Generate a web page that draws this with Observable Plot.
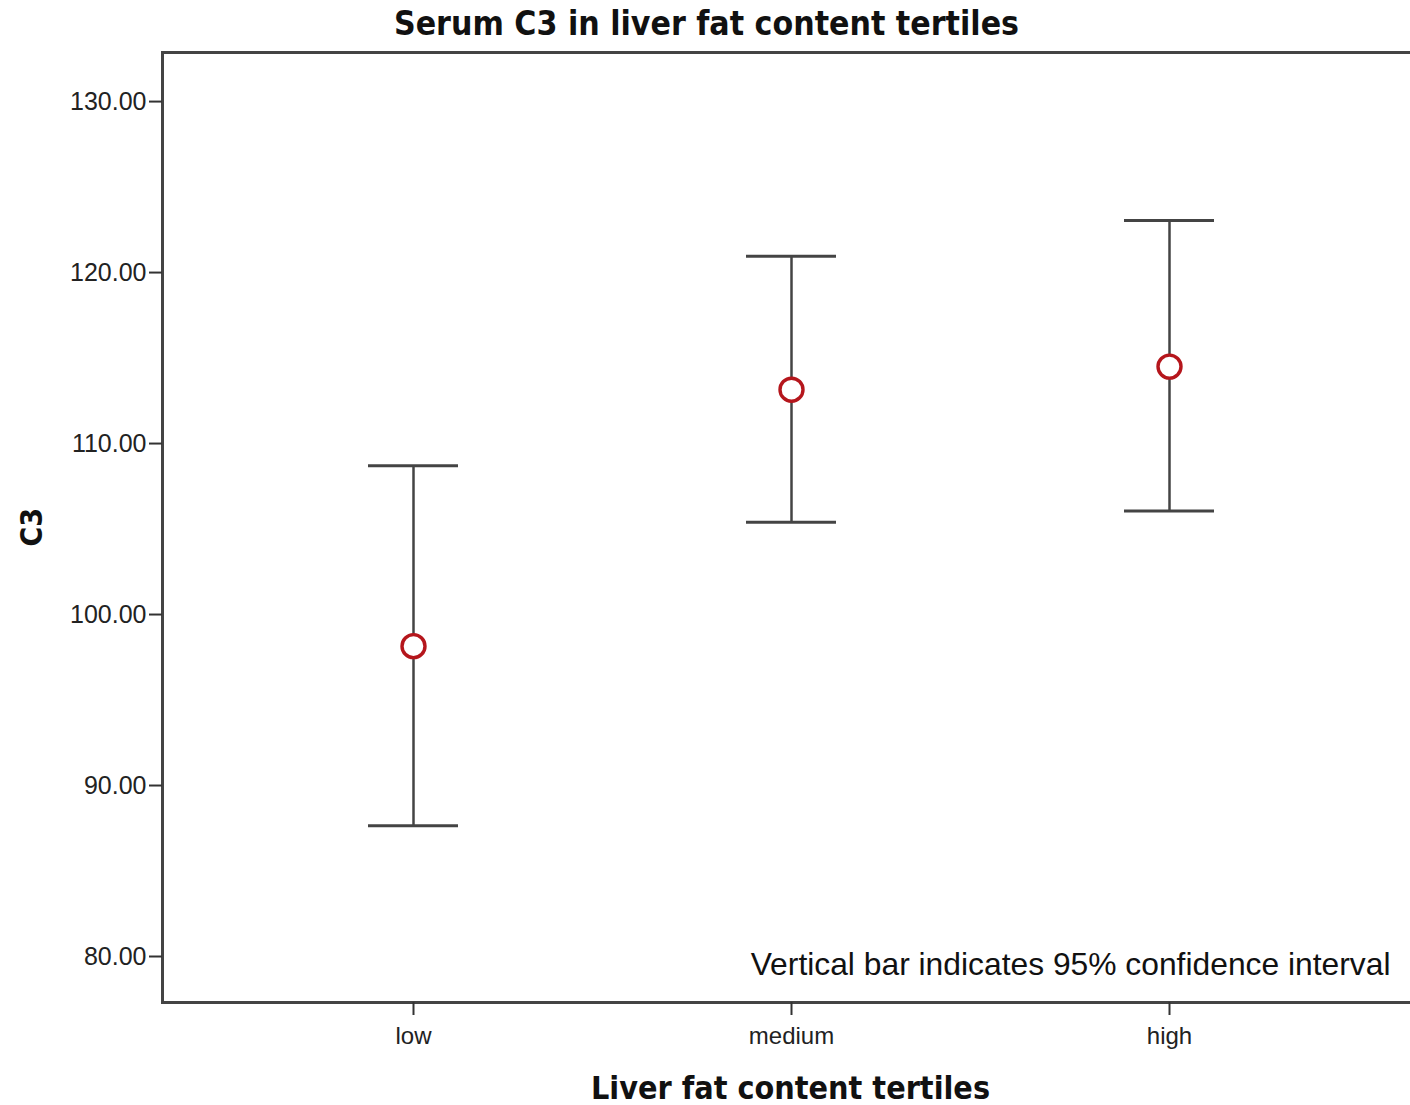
<!DOCTYPE html>
<html>
<head>
<meta charset="utf-8">
<script src="https://cdn.jsdelivr.net/npm/d3@7"></script>
<script src="https://cdn.jsdelivr.net/npm/@observablehq/plot@0.6"></script>
<style>
  body { margin: 0; background: #fff; }
  #chart svg { display: block; }
</style>
</head>
<body>
<div id="chart"></div>
<script>
const categories = ["low", "medium", "high"];
const means = [98.15, 113.15, 114.5];
const lowerCI = [87.65, 105.4, 106.05];
const upperCI = [108.7, 120.95, 123.05];
const yTicks = [80, 90, 100, 110, 120, 130];

const data = categories.map((c, i) => ({cat: c, mean: means[i], lo: lowerCI[i], hi: upperCI[i]}));

const titleFont = "'DejaVu Sans Condensed', 'DejaVu Sans', sans-serif";
const bodyFont = "'Liberation Sans', Arial, sans-serif";

const chart = Plot.plot({
  width: 1410,
  height: 1105,
  marginLeft: 162,
  marginRight: 0,
  marginTop: 52,
  marginBottom: 103,
  style: {fontFamily: bodyFont, background: "#fff", color: "#222"},
  x: {type: "band", domain: categories, range: [224, 1358], padding: 0, label: null},
  y: {domain: [77.31, 132.87], label: null},
  marks: [
    Plot.frame({anchor: "left", stroke: "#444", strokeWidth: 3}),
    Plot.frame({anchor: "top", stroke: "#444", strokeWidth: 3}),
    Plot.frame({anchor: "bottom", stroke: "#444", strokeWidth: 3}),
    Plot.axisY({ticks: yTicks, tickFormat: d3.format(".2f"), tickSize: 13, tickPadding: 3, fontSize: 25, stroke: "#333", strokeWidth: 2, label: null}),
    Plot.axisX({tickSize: 13, tickPadding: 11, fontSize: 24, stroke: "#333", strokeWidth: 2, label: null}),
    Plot.ruleX(data, {x: "cat", y1: "lo", y2: "hi", stroke: "#444", strokeWidth: 2.5}),
    Plot.tickY(data, {x: "cat", y: "lo", insetLeft: 144, insetRight: 144, stroke: "#444", strokeWidth: 3}),
    Plot.tickY(data, {x: "cat", y: "hi", insetLeft: 144, insetRight: 144, stroke: "#444", strokeWidth: 3}),
    Plot.dot(data, {x: "cat", y: "mean", r: 11.5, stroke: "#b5161c", strokeWidth: 3.4, fill: "#fff"}),
    Plot.text(["Serum C3 in liver fat content tertiles"], {frameAnchor: "top", dx: -80, dy: -41, fontSize: 33.5, fontWeight: "bold", fontFamily: titleFont, fill: "#111"}),
    Plot.text(["Liver fat content tertiles"], {frameAnchor: "bottom", dx: 4, dy: 96, fontSize: 32, fontWeight: "bold", fontFamily: titleFont, fill: "#111"}),
    Plot.text(["C3"], {frameAnchor: "left", dx: -130, dy: 19, rotate: -90, fontSize: 30, fontWeight: "bold", fontFamily: titleFont, fill: "#111"}),
    Plot.text(["Vertical bar indicates 95% confidence interval"], {frameAnchor: "bottom-right", dx: -20, dy: -28, textAnchor: "end", fontSize: 31.8, fontFamily: bodyFont, fill: "#111"})
  ]
});
document.getElementById("chart").appendChild(chart);
</script>
</body>
</html>
